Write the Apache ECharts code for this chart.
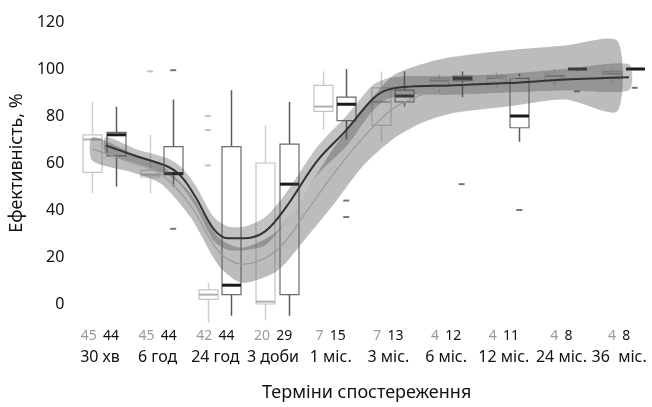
<!DOCTYPE html>
<html>
<head>
<meta charset="utf-8">
<script src="https://cdn.jsdelivr.net/npm/echarts@6/dist/echarts.min.js"></script>
<style>
html,body{margin:0;padding:0;background:#fff}
#chart{width:652px;height:407px}
</style>
</head>
<body>
<div id="chart"></div>
<script>
// терміни спостереження
const periods = ['30 хв', '6 год', '24 год', '3 доби', '1 міс.', '3 міс.', '6 міс.', '12 міс.', '24 міс.', '36  міс.'];
const countsGrey = [45, 45, 42, 20, 7, 7, 4, 4, 4, 4];
const countsBlack = [44, 44, 44, 29, 15, 13, 12, 11, 8, 8];

// [min, q1, median, q3, max]
const greyBoxes = [
  [47, 56, 70, 72, 86],
  [47, 54, 55, 57, 72],
  [-8, 2, 4, 6, 9],
  [-7, 0, 1, 60, 76],
  [74, 82, 84, 93, 99],
  [69, 76, 86, 92, 99],
  [90, 93, 95, 96, 98],
  [92, 94, 96, 97, 99],
  [93, 95, 97, 98, 100],
  [94, 96, 98, 99, 100]
];
const blackBoxes = [
  [50, 63, 72, 73, 84],
  [50, 55, 55.5, 67, 87],
  [-5, 4, 8, 67, 91],
  [-5, 4, 51, 68, 86],
  [70, 78, 85, 88, 100],
  [84, 86, 88.5, 91, 99],
  [88, 95, 96, 97, 99],
  [69, 75, 80, 96, 98],
  [99, 100, 100, 100, 100],
  [100, 100, 100, 100, 100]
];
// викиди: [індекс терміну, значення]
const greyOutliers = [[1, 99], [2, 80], [2, 74], [2, 59]];
const blackOutliers = [[1, 99.5], [1, 32], [4, 44], [4, 37], [6, 51], [7, 40], [8, 90.5], [9, 92]];

// згладжені криві: [x, y], x у одиницях термінів
const blackFit = [[0.03, 67.5], [0.55, 63], [1.1, 58.5], [1.35, 54], [1.6, 45], [1.9, 32], [2.15, 28], [2.45, 28],
  [2.8, 31], [3.15, 41], [3.7, 61], [4.2, 74], [4.65, 87], [4.9, 91], [5.3, 92.5], [6, 93], [7, 94], [8, 95.5], [9.1, 96.5]];
const greyFit = [[-0.2, 66], [0.5, 60], [1.0, 55], [1.5, 42], [2.0, 22], [2.4, 17], [3.0, 23], [3.5, 39], [4.0, 56],
  [4.5, 71], [5.0, 83], [5.5, 89], [6.0, 93], [7.0, 96], [8.0, 98], [8.9, 97]];
// довірчі смуги: [x, нижня межа, верхня межа]
const greyBand = [[-0.2, 61, 71], [0.5, 56, 64], [1.0, 51, 59], [1.5, 37, 47], [2.0, 16, 28], [2.4, 9, 24], [3.0, 14, 31],
  [3.5, 28, 48], [4.0, 43, 67], [4.5, 59, 83], [5.0, 70, 97], [5.5, 77, 102], [6.0, 81, 105], [7.0, 84, 108],
  [8.0, 87, 110], [8.9, 82, 112]];
const blackBand = [[0.03, 64, 71], [0.55, 60, 66], [1.1, 55, 62], [1.35, 50, 58], [1.6, 41, 50], [1.9, 27, 37],
  [2.15, 23, 33], [2.45, 23, 33], [2.8, 25, 37], [3.15, 35, 47], [3.7, 55, 67], [4.2, 67, 80], [4.65, 82, 93],
  [4.9, 87, 96], [5.3, 89, 97], [6.0, 89, 97], [7.0, 90, 98], [8.0, 91, 100], [9.1, 91, 102]];

const GREY_SHIFT = -0.2, BLACK_SHIFT = 0.2;
const FONT = 'Noto Sans';

let chart = echarts.init(document.getElementById('chart'));

function boxRenderer(stroke, whisker, median, medianWidth) {
  return function (params, api) {
    const x = api.value(0);
    const pMin = api.coord([x, api.value(1)]);
    const pQ1 = api.coord([x, api.value(2)]);
    const pMed = api.coord([x, api.value(3)]);
    const pQ3 = api.coord([x, api.value(4)]);
    const pMax = api.coord([x, api.value(5)]);
    const w = 19;
    const cx = Math.round(pMed[0]) + 0.5;
    return {
      type: 'group',
      children: [
        {type: 'line', shape: {x1: cx, y1: pMax[1], x2: cx, y2: pQ3[1]}, style: {stroke: whisker, lineWidth: 1.5}},
        {type: 'line', shape: {x1: cx, y1: pQ1[1], x2: cx, y2: pMin[1]}, style: {stroke: whisker, lineWidth: 1.5}},
        {type: 'rect', shape: {x: cx - w / 2, y: pQ3[1], width: w, height: pQ1[1] - pQ3[1]},
          style: {fill: '#fff', stroke: stroke, lineWidth: 1.2}},
        {type: 'line', shape: {x1: cx - w / 2, y1: pMed[1], x2: cx + w / 2, y2: pMed[1]},
          style: {stroke: median, lineWidth: medianWidth}}
      ]
    };
  };
}

function bandRenderer(band, fill) {
  return function (params, api) {
    const low = band.map(d => api.coord([d[0], d[1]]));
    const high = band.map(d => api.coord([d[0], d[2]])).reverse();
    return {
      type: 'polygon',
      shape: {points: low.concat(high), smooth: 0.25},
      style: {fill: fill}
    };
  };
}

let option = {
  animation: false,
  textStyle: {fontFamily: FONT},
  grid: {left: 60, right: 0, top: 22, bottom: 100},
  xAxis: {
    type: 'value',
    min: -0.6,
    max: 9.5,
    axisLine: {show: false},
    axisTick: {show: false},
    splitLine: {show: false},
    axisLabel: {
      customValues: periods.map((p, i) => i),
      margin: 22,
      padding: [0, 8, 0, 0],
      formatter: v => '{g|' + countsGrey[v] + '}  {b|' + countsBlack[v] + '}\n{n|' + periods[v] + '}',
      rich: {
        g: {color: '#9a9a9a', fontSize: 14, lineHeight: 20, fontFamily: FONT},
        b: {color: '#111', fontSize: 14, lineHeight: 20, fontFamily: FONT},
        n: {color: '#111', fontSize: 16, lineHeight: 22, fontFamily: FONT}
      }
    },
    name: 'Терміни спостереження',
    nameLocation: 'middle',
    nameGap: 80,
    nameTextStyle: {color: '#111', fontSize: 18, fontFamily: FONT, padding: [0, 0, 0, 12]}
  },
  yAxis: {
    type: 'value',
    min: 0,
    max: 120,
    interval: 20,
    axisLine: {show: false},
    axisTick: {show: false},
    splitLine: {show: false},
    axisLabel: {color: '#111', fontSize: 16, margin: 5, fontFamily: FONT},
    name: 'Ефективність, %',
    nameLocation: 'middle',
    nameGap: 39,
    nameTextStyle: {color: '#111', fontSize: 18, fontFamily: FONT}
  },
  series: [
    {
      type: 'custom',
      renderItem: boxRenderer('#c4c4c4', '#cfcfcf', '#b0b0b0', 2),
      data: greyBoxes.map((b, i) => [i + GREY_SHIFT].concat(b)),
      encode: {x: 0, y: [1, 2, 3, 4, 5]}
    },
    {
      type: 'custom',
      renderItem: boxRenderer('#6a6a6a', '#5a5a5a', '#1a1a1a', 3),
      data: blackBoxes.map((b, i) => [i + BLACK_SHIFT].concat(b)),
      encode: {x: 0, y: [1, 2, 3, 4, 5]}
    },
    {
      type: 'scatter',
      symbol: 'rect',
      symbolSize: [6, 2],
      itemStyle: {color: '#b5b5b5'},
      data: greyOutliers.map(d => [d[0] + GREY_SHIFT, d[1]])
    },
    {
      type: 'scatter',
      symbol: 'rect',
      symbolSize: [6, 2],
      itemStyle: {color: '#555'},
      data: blackOutliers.map(d => [d[0] + BLACK_SHIFT, d[1]])
    },
    {
      type: 'custom',
      renderItem: bandRenderer(greyBand, 'rgba(95,95,95,0.42)'),
      data: [[0, 50]],
      silent: true
    },
    {
      type: 'custom',
      renderItem: bandRenderer(blackBand, 'rgba(70,70,70,0.33)'),
      data: [[0, 50]],
      silent: true
    },
    {
      type: 'line',
      data: greyFit,
      smooth: 0.35,
      showSymbol: false,
      lineStyle: {color: '#9a9a9a', width: 1.2}
    },
    {
      type: 'line',
      data: blackFit,
      smooth: 0.35,
      showSymbol: false,
      lineStyle: {color: '#333', width: 2}
    }
  ]
};

chart.setOption(option);
</script>
</body>
</html>
